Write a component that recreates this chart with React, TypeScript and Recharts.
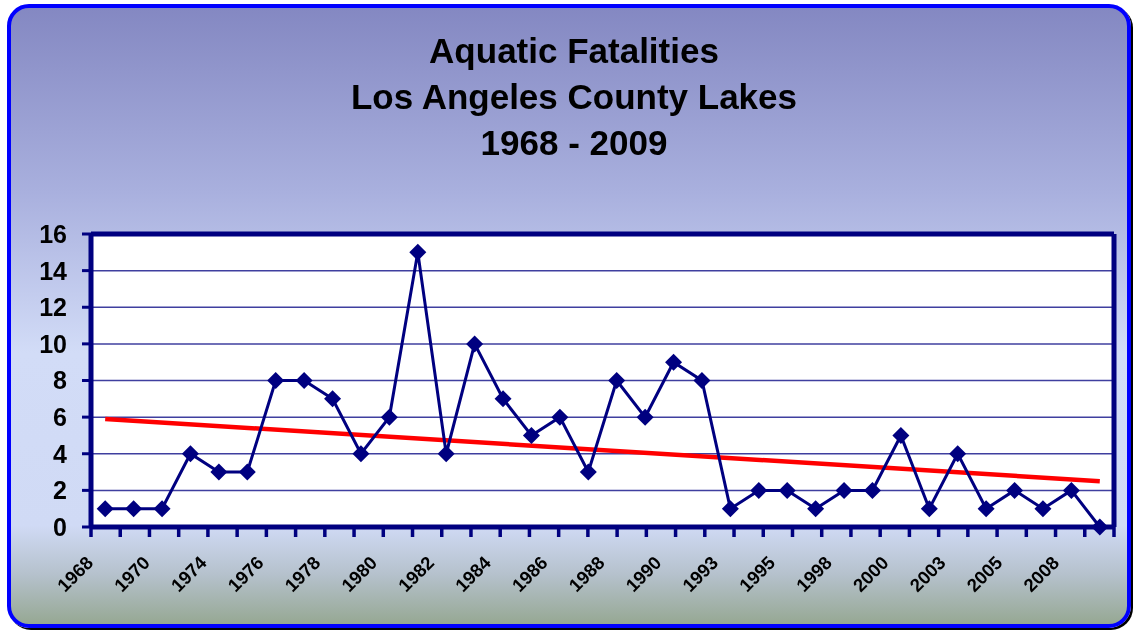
import React from 'react';
import {
  LineChart,
  Line,
  XAxis,
  YAxis,
  CartesianGrid,
} from 'recharts';

const years = [
  '1968', '1969', '1970', '1973', '1974', '1975', '1976', '1977', '1978',
  '1979', '1980', '1981', '1982', '1983', '1984', '1985', '1986', '1987',
  '1988', '1989', '1990', '1992', '1993', '1994', '1995', '1997', '1998',
  '1999', '2000', '2002', '2003', '2004', '2005', '2007', '2008', '2009',
];

const fatalities = [
  1, 1, 1, 4, 3, 3, 8, 8, 7, 4, 6, 15, 4, 10, 7, 5, 6, 3,
  8, 6, 9, 8, 1, 2, 2, 1, 2, 2, 5, 1, 4, 1, 2, 1, 2, 0,
];

const trendEnds = [5.9, 2.5];

const yTicks = [0, 2, 4, 6, 8, 10, 12, 14, 16];

const titleLines = ['Aquatic Fatalities', 'Los Angeles County Lakes', '1968 - 2009'];

const data = years.map((year, i) => ({
  year,
  deaths: fatalities[i],
  trend: i === 0 ? trendEnds[0] : i === years.length - 1 ? trendEnds[1] : null,
}));

// tick marks sit between the categories, like the original
const boundTicks = Array.from({ length: years.length + 1 }, (_, i) => i);

const NAVY = '#000080';
const FONT = '"Liberation Sans", Arial, Helvetica, sans-serif';

function Diamond(props: any) {
  const { cx, cy, index } = props;
  if (cx == null || cy == null) return null;
  const r = 8.5;
  return (
    <path
      key={`d-${index}`}
      d={`M${cx},${cy - r}L${cx + r},${cy}L${cx},${cy + r}L${cx - r},${cy}Z`}
      fill={NAVY}
    />
  );
}

function YearTick(props: any) {
  const { x, y, payload } = props;
  if (payload.index % 2 !== 0) return null;
  const tx = x - 11;
  const ty = y + 36;
  return (
    <text
      x={tx}
      y={ty}
      transform={`rotate(-45 ${tx} ${ty})`}
      textAnchor="end"
      fontSize={18.5}
      fontWeight="bold"
      fill="#000"
      fontFamily={FONT}
    >
      {payload.value}
    </text>
  );
}

const NoLabel = () => null;

export default function App() {
  return (
    <div
      style={{
        position: 'fixed',
        left: 0,
        top: 0,
        width: 1133,
        height: 631,
        fontFamily: FONT,
        overflow: 'hidden',
      }}
    >
      {/* FRAME */}
      <div
        style={{
          position: 'absolute',
          left: 7,
          top: 4,
          width: 1124,
          height: 624,
          boxSizing: 'border-box',
          border: '4.5px solid #0000ff',
          borderRadius: 22,
          boxShadow: '2px 2px 0 #000',
          background:
            'linear-gradient(to bottom, #8488c2 0%, #a9b0de 30%, #d2dcf7 56%, #d0daf5 84%, #b5c1cc 92%, #96a893 100%)',
        }}
      />

      {/* TITLE */}
      <div
        style={{
          position: 'absolute',
          left: 14,
          top: 28,
          width: 1120,
          textAlign: 'center',
          fontSize: 35,
          lineHeight: '46px',
          fontWeight: 'bold',
          color: '#000',
        }}
      >
        {titleLines.map((t) => (
          <div key={t}>{t}</div>
        ))}
      </div>

      {/* CHART */}
      <div style={{ position: 'absolute', left: 0, top: 0 }}>
        <LineChart
          width={1133}
          height={631}
          data={data}
          margin={{ top: 233, right: 18, bottom: 3, left: 31 }}
        >
          <CartesianGrid
            xAxisId="cat"
            vertical={false}
            fill="#ffffff"
            stroke="#3f3f9f"
            strokeWidth={1.5}
          />

          {/* year labels (outer bottom axis) */}
          <XAxis
            xAxisId="cat"
            dataKey="year"
            scale="band"
            interval={0}
            axisLine={false}
            tickLine={false}
            tickSize={0}
            tickMargin={0}
            tick={<YearTick />}
            height={100}
          />

          {/* axis line + tick marks between categories (inner bottom axis) */}
          <XAxis
            xAxisId="bounds"
            type="number"
            domain={[0, years.length]}
            ticks={boundTicks}
            interval={0}
            tick={<NoLabel />}
            tickSize={10}
            tickLine={{ stroke: NAVY, strokeWidth: 3.5 }}
            axisLine={{ stroke: NAVY, strokeWidth: 5 }}
            height={1}
          />

          <XAxis
            xAxisId="top"
            orientation="top"
            type="number"
            domain={[0, 1]}
            ticks={[0, 1]}
            tick={false}
            tickLine={false}
            axisLine={{ stroke: NAVY, strokeWidth: 5 }}
            height={1}
          />

          <YAxis
            domain={[0, 16]}
            ticks={yTicks}
            interval={0}
            width={60}
            tickSize={9}
            tickMargin={15}
            tickLine={{ stroke: NAVY, strokeWidth: 3 }}
            axisLine={{ stroke: NAVY, strokeWidth: 5 }}
            tick={{ fill: '#000', fontSize: 25, fontWeight: 'bold', fontFamily: FONT }}
          />

          <YAxis
            yAxisId="right"
            orientation="right"
            domain={[0, 16]}
            ticks={yTicks}
            width={1}
            tick={false}
            tickLine={false}
            axisLine={{ stroke: NAVY, strokeWidth: 5 }}
          />

          <Line
            xAxisId="cat"
            dataKey="trend"
            stroke="#ff0000"
            strokeWidth={4.5}
            dot={false}
            activeDot={false}
            connectNulls
            isAnimationActive={false}
          />

          <Line
            xAxisId="cat"
            dataKey="deaths"
            stroke={NAVY}
            strokeWidth={3}
            dot={<Diamond />}
            activeDot={false}
            isAnimationActive={false}
          />
        </LineChart>
      </div>
    </div>
  );
}
